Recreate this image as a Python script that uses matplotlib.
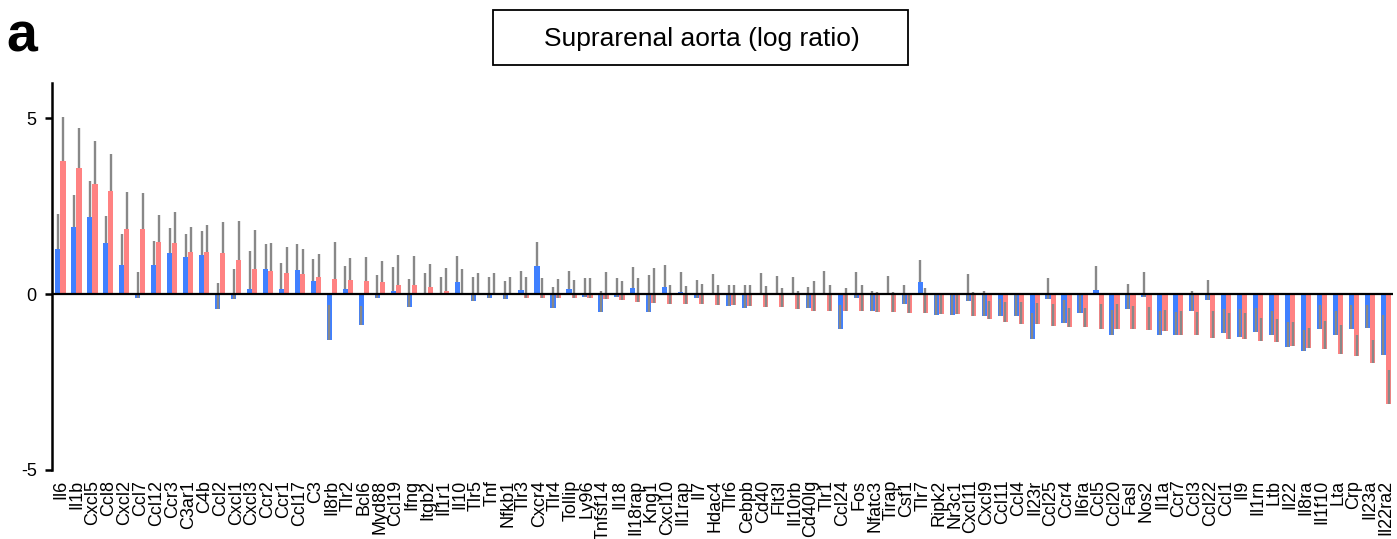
import matplotlib
matplotlib.use("Agg")
import matplotlib.pyplot as plt
from matplotlib.patches import Rectangle
import numpy as np

plt.rcParams['font.family'] = ['Liberation Sans', 'DejaVu Sans']

genes = ["Il6", "Il1b", "Cxcl5", "Ccl8", "Cxcl2", "Ccl7", "Ccl12", "Ccr3", "C3ar1", "C4b",
         "Ccl2", "Cxcl1", "Cxcl3", "Ccr2", "Ccr1", "Ccl17", "C3", "Il8rb", "Tlr2", "Bcl6",
         "Myd88", "Ccl19", "Ifng", "Itgb2", "Il1r1", "Il10", "Tlr5", "Tnf", "Nfkb1", "Tlr3",
         "Cxcr4", "Tlr4", "Tollip", "Ly96", "Tnfsf14", "Il18", "Il18rap", "Kng1", "Cxcl10", "Il1rap",
         "Il7", "Hdac4", "Tlr6", "Cebpb", "Cd40", "Flt3l", "Il10rb", "Cd40lg", "Tlr1", "Ccl24",
         "Fos", "Nfatc3", "Tirap", "Csf1", "Tlr7", "Ripk2", "Nr3c1", "Cxcl11", "Cxcl9", "Ccl11",
         "Ccl4", "Il23r", "Ccl25", "Ccr4", "Il6ra", "Ccl5", "Ccl20", "Fasl", "Nos2", "Il1a",
         "Ccr7", "Ccl3", "Ccl22", "Ccl1", "Il9", "Il1rn", "Ltb", "Il22", "Il8ra", "Il1f10",
         "Lta", "Crp", "Il23a", "Il22ra2"]

# log ratios, first group (blue) and second group (red)
blue = [1.27, 1.91, 2.18, 1.44, 0.84, -0.12, 0.82, 1.16, 1.06, 1.12,
        -0.42, -0.15, 0.14, 0.71, 0.14, 0.68, 0.37, -1.31, 0.14, -0.88,
        -0.12, 0.09, -0.37, -0.03, -0.04, 0.35, -0.20, -0.12, -0.15, 0.11,
        0.81, -0.40, 0.14, -0.09, -0.52, -0.08, 0.17, -0.52, 0.19, 0.06,
        -0.12, -0.01, -0.34, -0.39, -0.01, -0.01, -0.01, -0.40, -0.01, -0.99,
        -0.12, -0.47, -0.01, -0.27, 0.34, -0.60, -0.60, -0.20, -0.61, -0.63,
        -0.63, -1.29, -0.15, -0.81, -0.55, 0.13, -1.15, -0.43, -0.09, -1.15,
        -1.15, -0.47, -0.18, -1.12, -1.22, -1.07, -1.15, -1.50, -1.61, -0.99,
        -1.15, -0.99, -0.97, -1.74]
blue_err = [1.00, 0.90, 1.03, 0.78, 0.86, 0.76, 0.69, 0.72, 0.64, 0.67,
            0.74, 0.86, 1.08, 0.71, 0.73, 0.73, 0.62, 1.00, 0.66, 0.54,
            0.66, 0.68, 0.80, 0.63, 0.52, 0.72, 0.68, 0.62, 0.52, 0.54,
            0.66, 0.60, 0.51, 0.54, 0.60, 0.55, 0.60, 1.06, 0.63, 0.56,
            0.52, 0.58, 0.61, 0.66, 0.60, 0.53, 0.50, 0.59, 0.68, 0.68,
            0.74, 0.55, 0.53, 0.54, 0.63, 0.56, 0.56, 0.77, 0.70, 0.50,
            0.59, 0.74, 0.62, 0.64, 0.57, 0.67, 0.71, 0.73, 0.71, 0.68,
            0.65, 0.56, 0.57, 0.69, 0.79, 0.68, 0.68, 0.70, 0.59, 0.69,
            0.68, 0.69, 0.67, 1.15]
red = [3.79, 3.57, 3.13, 2.93, 1.84, 1.84, 1.49, 1.46, 1.21, 1.19,
       1.16, 0.97, 0.71, 0.66, 0.59, 0.57, 0.49, 0.44, 0.40, 0.37,
       0.35, 0.27, 0.25, 0.19, 0.09, 0.01, -0.01, -0.01, -0.02, -0.10,
       -0.10, -0.10, -0.10, -0.12, -0.14, -0.17, -0.22, -0.25, -0.27, -0.29,
       -0.29, -0.31, -0.31, -0.34, -0.37, -0.38, -0.42, -0.47, -0.47, -0.47,
       -0.47, -0.50, -0.50, -0.53, -0.55, -0.56, -0.58, -0.63, -0.71, -0.78,
       -0.84, -0.86, -0.90, -0.93, -0.93, -0.98, -0.98, -1.00, -1.02, -1.05,
       -1.17, -1.17, -1.24, -1.27, -1.27, -1.34, -1.37, -1.47, -1.54, -1.56,
       -1.71, -1.75, -1.97, -3.12]
red_err = [1.23, 1.14, 1.22, 1.05, 1.07, 1.02, 0.77, 0.87, 0.69, 0.77,
           0.90, 1.11, 1.11, 0.78, 0.75, 0.72, 0.65, 1.03, 0.62, 0.68,
           0.59, 0.83, 0.82, 0.66, 0.64, 0.70, 0.61, 0.61, 0.50, 0.58,
           0.55, 0.53, 0.50, 0.57, 0.76, 0.54, 0.69, 0.98, 0.54, 0.52,
           0.59, 0.58, 0.58, 0.59, 0.59, 0.54, 0.50, 0.83, 0.74, 0.63,
           0.72, 0.55, 0.55, 0.55, 0.72, 0.52, 0.56, 0.68, 0.50, 0.55,
           0.61, 0.60, 0.61, 0.54, 0.54, 0.71, 0.71, 0.66, 0.66, 0.61,
           0.70, 0.65, 0.77, 0.72, 0.72, 0.65, 0.65, 0.67, 0.59, 0.79,
           0.82, 0.60, 0.66, 0.96]

x = np.arange(len(genes))
w = 0.32
blue_c = '#4080ff'
red_c = '#ff8282'
grey = '#888888'

fig = plt.figure(figsize=(13.97, 5.39), dpi=100)
ax = fig.add_axes([52 / 1397, 69 / 539, (1393 - 52) / 1397, (470 - 83) / 539])

ax.bar(x - w / 2, blue, width=w, color=blue_c, linewidth=0, zorder=2)
ax.bar(x + w / 2, red, width=w, color=red_c, linewidth=0, zorder=2)

# error bars only drawn upward from the bar end
zeros = np.zeros(len(genes))
ax.errorbar(x - w / 2, blue, yerr=[zeros, blue_err], fmt='none',
            ecolor=grey, elinewidth=1.7, capsize=0, zorder=3)
ax.errorbar(x + w / 2, red, yerr=[zeros, red_err], fmt='none',
            ecolor=grey, elinewidth=1.7, capsize=0, zorder=3)

ax.axhline(0, color='black', lw=1.6, zorder=4)

ax.set_xlim(-0.53, len(genes) - 1 + 0.44)
ax.set_ylim(-5, 6)
ax.set_yticks([-5, 0, 5])
ax.set_yticklabels(['-5', '0', '5'], fontsize=13)
ax.set_xticks(x)
ax.set_xticklabels(genes, rotation=90, fontsize=13)
ax.tick_params(axis='x', length=0, pad=7)
ax.tick_params(axis='y', length=5, width=1.8, pad=6)

for s in ['top', 'right', 'bottom']:
    ax.spines[s].set_visible(False)
ax.spines['left'].set_linewidth(1.8)
ax.spines['left'].set_bounds(-5, 6)

# title box
fig.patches.append(Rectangle((493 / 1397, 474 / 539), 415 / 1397, 55 / 539,
                             transform=fig.transFigure, fill=False,
                             edgecolor='black', linewidth=1.3))
fig.text(702 / 1397, 500 / 539, 'Suprarenal aorta (log ratio)', fontsize=19,
         ha='center', va='center')
fig.text(6 / 1397, 488 / 539, 'a', fontsize=40, fontweight='bold',
         ha='left', va='baseline')

fig.savefig('out.png', dpi=100)
